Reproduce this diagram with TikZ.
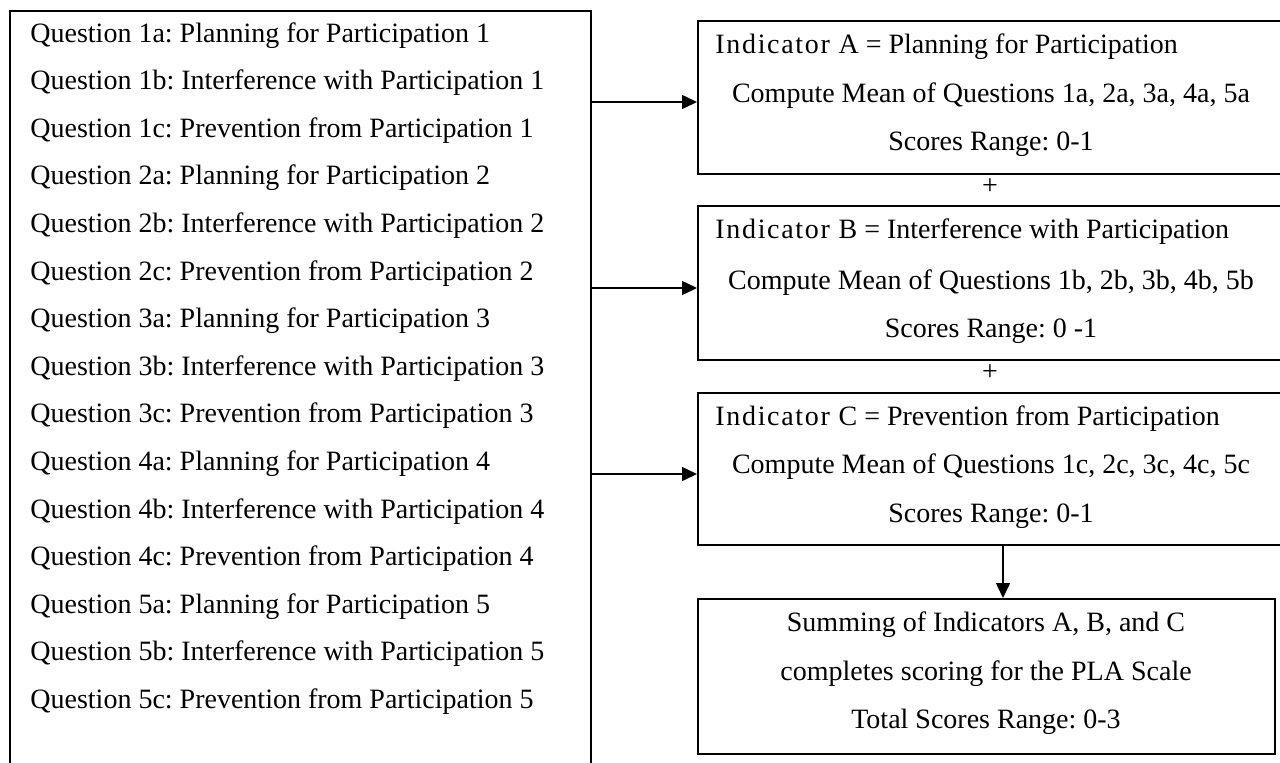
\documentclass[tikz,border=0pt]{standalone}
\usepackage{fontspec}
\setmainfont{Liberation Serif}
\usetikzlibrary{arrows.meta}
\newcommand{\spc}[1]{{\addfontfeature{LetterSpace=6}#1}}
\tikzset{
  box/.style={draw, line width=0.9pt, inner sep=0pt, anchor=north west},
  txt/.style={inner sep=0pt, text height=0.7em, text depth=0.2em, font=\fontsize{14}{16}\selectfont\frenchspacing},
  arr/.style={line width=0.75pt, -{Triangle[length=7.5pt,width=7pt]}}
}
\begin{document}
\begin{tikzpicture}[x=0.5pt,y=-0.5pt]
\useasboundingbox (0,0) rectangle (1280,762);
\clip (0,0) rectangle (1280,762);
% left box
\node[box, minimum width=290.5pt, minimum height=395pt] (Q) at (9,10) {};
\foreach \t [count=\i] in {1a: Planning for Participation 1,
  1b: Interference with Participation 1,
  1c: Prevention from Participation 1,
  2a: Planning for Participation 2,
  2b: Interference with Participation 2,
  2c: Prevention from Participation 2,
  3a: Planning for Participation 3,
  3b: Interference with Participation 3,
  3c: Prevention from Participation 3,
  4a: Planning for Participation 4,
  4b: Interference with Participation 4,
  4c: Prevention from Participation 4,
  5a: Planning for Participation 5,
  5b: Interference with Participation 5,
  5c: Prevention from Participation 5}
  \node[txt, anchor=west] (q\i) at (30, {37+47.6*(\i-1)}) {Question \t};
% indicator boxes
\node[box, minimum width=301.5pt, minimum height=76.5pt] (A) at (697,20) {};
\node[txt, anchor=west] (a1) at (715,48) {\spc{Indicator A} = Planning for Participation};
\node[txt] (a2) at (991,97) {Compute Mean of Questions 1a, 2a, 3a, 4a, 5a};
\node[txt] (a3) at (991,145) {Scores Range: 0-1};
\node[txt] (p1) at (990,189) {+};
\node[box, minimum width=301.5pt, minimum height=77pt] (B) at (697,205) {};
\node[txt, anchor=west] (b1) at (715,233) {\spc{Indicator B} = Interference with Participation};
\node[txt] (b2) at (991,284) {Compute Mean of Questions 1b, 2b, 3b, 4b, 5b};
\node[txt] (b3) at (991,332) {Scores Range: 0 -1};
\node[txt] (p2) at (990,375) {+};
\node[box, minimum width=301.5pt, minimum height=76pt] (C) at (697,392) {};
\node[txt, anchor=west] (c1) at (715,420) {\spc{Indicator C} = Prevention from Participation};
\node[txt] (c2) at (991,468) {Compute Mean of Questions 1c, 2c, 3c, 4c, 5c};
\node[txt] (c3) at (991,517) {Scores Range: 0-1};
% total box
\node[box, minimum width=288.5pt, minimum height=77.5pt] (D) at (697,598) {};
\node[txt] (d1) at (986,626) {Summing of Indicators A, B, and C};
\node[txt] (d2) at (986,675) {completes scoring for the PLA Scale};
\node[txt] (d3) at (986,723) {Total Scores Range: 0-3};
% connectors
\coordinate (ya) at (0,102);
\coordinate (yb) at (0,288);
\coordinate (yc) at (0,474);
\coordinate (xd) at (1003,0);
\draw[arr] (Q.north east |- ya) -- (A.west |- ya);
\draw[arr] (Q.north east |- yb) -- (B.west |- yb);
\draw[arr] (Q.north east |- yc) -- (C.west |- yc);
\draw[arr] (C.south -| xd) -- (D.north -| xd);
\end{tikzpicture}
\end{document}
